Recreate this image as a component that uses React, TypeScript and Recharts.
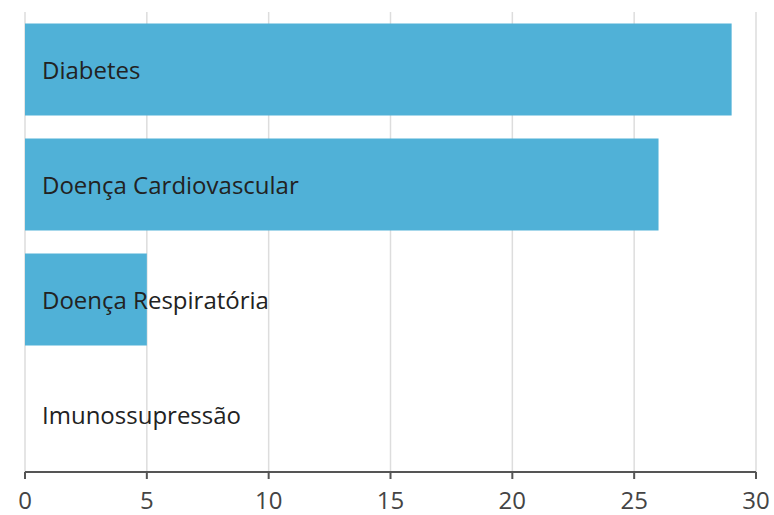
import {
  Bar,
  BarChart,
  CartesianGrid,
  XAxis,
  YAxis,
} from "recharts"

const CATEGORIES = [
  "Diabetes",
  "Doença Cardiovascular",
  "Doença Respiratória",
  "Imunossupressão",
]
const VALUES = [29, 26, 5, 0]
const TICKS = [0, 5, 10, 15, 20, 25, 30]

const BAR_COLOR = "#50b1d7"
const FONT = "'Open Sans', 'Noto Sans', sans-serif"

// category names sit inside the plot, just right of the zero line
function renderCategoryTick(props: any) {
  const { y, payload } = props
  return (
    <text
      key={payload.value}
      x={42}
      y={y}
      dy="0.38em"
      fill="#222"
      fontSize={24}
      fontFamily={FONT}
      textAnchor="start"
    >
      {payload.value}
    </text>
  )
}

export default function App() {
  const data = CATEGORIES.map((name, i) => ({ name, value: VALUES[i] }))

  return (
    <div style={{ position: "absolute", left: 0, top: 0, background: "#fff" }}>
      <BarChart
        width={774}
        height={515}
        data={data}
        layout="vertical"
        margin={{ top: 12, right: 18, bottom: 0, left: 25 }}
        barCategoryGap="10%"
      >
        <CartesianGrid horizontal={false} stroke="#dddddd" strokeWidth={1.5} />
        <XAxis
          type="number"
          domain={[0, 30]}
          ticks={TICKS}
          interval={0}
          height={43}
          axisLine={{ stroke: "#555", strokeWidth: 2 }}
          tickLine={{ stroke: "#555", strokeWidth: 2 }}
          tickSize={7}
          tickMargin={13}
          tick={{ fill: "#444", fontSize: 24, fontFamily: FONT }}
        />
        <Bar dataKey="value" fill={BAR_COLOR} isAnimationActive={false} />
        <YAxis
          type="category"
          dataKey="name"
          mirror
          width={200}
          axisLine={false}
          tickLine={false}
          interval={0}
          tick={renderCategoryTick}
        />
      </BarChart>
    </div>
  )
}
